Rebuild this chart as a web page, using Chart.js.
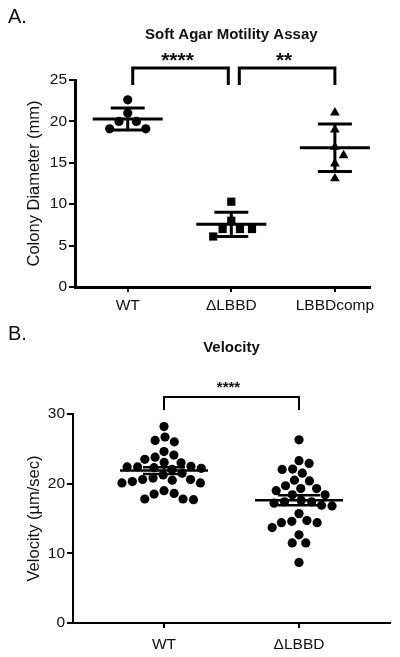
<!DOCTYPE html>
<html>
<head>
<meta charset="utf-8">
<script src="https://cdn.jsdelivr.net/npm/chart.js@4.4.1/dist/chart.umd.min.js"></script>
<style>
  html, body { margin: 0; padding: 0; background: #fff; }
  .panel { position: relative; width: 400px; }
  canvas { display: block; }
</style>
</head>
<body>
<div class="panel"><canvas id="agarChart" width="400" height="320"></canvas></div>
<div class="panel"><canvas id="velocityChart" width="400" height="337"></canvas></div>
<script>
// Panel A: soft agar colony diameters (mm)
const agarGroups = ['WT', '\u0394LBBD', 'LBBDcomp'];
const agarWT = [22.6, 21.0, 20.0, 20.0, 19.1, 19.1];
const agarDelta = [10.3, 8.0, 7.0, 7.0, 7.0, 6.1];
const agarComp = [21.05, 19.0, 16.9, 15.9, 14.9, 13.1];
const agarStars = ['****', '**'];

// Panel B: velocity (µm/sec)
const velocityGroups = ['WT', '\u0394LBBD'];
const velocityWT = [28.2, 26.7, 26.2, 26.0, 24.6, 24.1, 23.8, 23.5, 23.05, 23.0, 22.5,
  22.4, 22.4, 22.3, 22.2, 22.05, 21.5, 21.25, 20.8, 20.6, 20.6, 20.5, 20.3, 20.1, 20.1,
  19.0, 18.6, 18.5, 17.8, 17.8, 17.7];
const velocityDelta = [26.3, 23.3, 22.9, 22.1, 22.05, 21.5, 20.5, 20.4, 19.7, 19.3, 19.3,
  19.0, 18.4, 18.4, 17.6, 17.4, 17.4, 17.2, 16.9, 16.8, 15.7, 14.7, 14.6, 14.4, 14.4,
  13.7, 12.65, 11.5, 11.5, 8.7];
const velocityStars = ['****'];

const FONT = "'Liberation Sans', Arial, sans-serif";
const INK = '#111';

Chart.defaults.font.family = FONT;
Chart.defaults.color = INK;

// beeswarm: place each point as close to the centre line as it can go without overlapping
function swarmOffsets(pys, diam) {
  const order = pys.map(function (_, i) { return i; }).sort(function (a, b) { return pys[a] - pys[b]; });
  const placed = [];
  const out = [];
  order.forEach(function (i) {
    const y = pys[i];
    const near = placed.filter(function (p) { return Math.abs(p.y - y) < diam; });
    const cands = [0];
    near.forEach(function (p) {
      const dx = Math.sqrt(diam * diam - (p.y - y) * (p.y - y));
      cands.push(p.x + dx, p.x - dx);
    });
    cands.sort(function (a, b) { return Math.abs(a) - Math.abs(b); });
    const x = cands.find(function (c) {
      return near.every(function (p) { return (p.x - c) * (p.x - c) + (p.y - y) * (p.y - y) >= diam * diam - 0.01; });
    });
    placed.push({ x: x, y: y });
    out[i] = x;
  });
  return out;
}

function applySwarm(chart, diam) {
  const xs = chart.scales.x;
  const ys = chart.scales.y;
  const pxPerX = xs.getPixelForValue(2) - xs.getPixelForValue(1);
  chart.data.datasets.forEach(function (ds, i) {
    const values = ds.data.map(function (p) { return p.y; });
    const offsets = swarmOffsets(values.map(function (v) { return ys.getPixelForValue(v); }), diam);
    ds.data = values.map(function (v, k) { return { x: i + 1 + offsets[k] / pxPerX, y: v }; });
  });
  chart.update('none');
}

function meanAndSpread(values, kind) {
  const n = values.length;
  const mean = values.reduce(function (a, b) { return a + b; }, 0) / n;
  const sd = Math.sqrt(values.reduce(function (a, v) { return a + (v - mean) * (v - mean); }, 0) / (n - 1));
  return { mean: mean, spread: kind === 'sem' ? sd / Math.sqrt(n) : sd };
}

const figureDecor = {
  id: 'figureDecor',
  afterDatasetsDraw(chart, args, opts) {
    const { ctx } = chart;
    const xs = chart.scales.x;
    const ys = chart.scales.y;

    ctx.save();
    ctx.strokeStyle = '#000';
    ctx.fillStyle = INK;
    ctx.lineCap = 'butt';

    // mean with error bars
    ctx.lineWidth = opts.barWidth;
    chart.data.datasets.forEach(function (ds, i) {
      const stats = meanAndSpread(ds.data.map(function (p) { return p.y; }), opts.spread);
      const cx = xs.getPixelForValue(i + 1);
      const yMean = ys.getPixelForValue(stats.mean);
      const yHi = ys.getPixelForValue(stats.mean + stats.spread);
      const yLo = ys.getPixelForValue(stats.mean - stats.spread);
      ctx.beginPath();
      ctx.moveTo(cx - opts.meanHalf, yMean);
      ctx.lineTo(cx + opts.meanHalf, yMean);
      ctx.moveTo(cx - opts.capHalf, yHi);
      ctx.lineTo(cx + opts.capHalf, yHi);
      ctx.moveTo(cx - opts.capHalf, yLo);
      ctx.lineTo(cx + opts.capHalf, yLo);
      ctx.moveTo(cx, yHi);
      ctx.lineTo(cx, yLo);
      ctx.stroke();
    });

    // significance brackets
    ctx.lineWidth = opts.bracketWidth;
    opts.brackets.forEach(function (b) {
      const x1 = xs.getPixelForValue(b.from) + b.inset[0];
      const x2 = xs.getPixelForValue(b.to) - b.inset[1];
      ctx.beginPath();
      ctx.moveTo(x1, opts.bracketY + opts.legLength);
      ctx.lineTo(x1, opts.bracketY);
      ctx.lineTo(x2, opts.bracketY);
      ctx.lineTo(x2, opts.bracketY + opts.legLength);
      ctx.stroke();
      ctx.font = opts.starFont;
      ctx.textAlign = 'center';
      ctx.textBaseline = 'middle';
      ctx.fillText(b.text, (x1 + x2) / 2 - 3, opts.starY);
    });

    // panel letter and title
    ctx.font = '20px ' + FONT;
    ctx.textAlign = 'left';
    ctx.textBaseline = 'middle';
    ctx.fillText(opts.panel, 8, opts.panelY);

    ctx.font = 'bold 15px ' + FONT;
    ctx.textAlign = 'center';
    const mid = xs.getPixelForValue((1 + chart.data.datasets.length) / 2);
    ctx.fillText(opts.title, mid, opts.titleY);
    ctx.restore();
  }
};

function axisScales(groups, xMin, xMax, yMax, yStep, yTitle, yWidth, xHeight, axisWidth, labelPad) {
  return {
    x: {
      type: 'linear',
      min: xMin,
      max: xMax,
      afterBuildTicks(scale) {
        scale.ticks = groups.map(function (g, i) { return { value: i + 1 }; });
      },
      afterFit(scale) { scale.height = xHeight; },
      ticks: {
        autoSkip: false,
        maxRotation: 0,
        padding: labelPad,
        color: INK,
        font: { size: 15.5 },
        callback(value) { return groups[value - 1]; }
      },
      grid: { drawOnChartArea: false, tickLength: 5, color: '#000', lineWidth: 2 },
      border: { color: '#000', width: axisWidth }
    },
    y: {
      min: 0,
      max: yMax,
      afterFit(scale) { scale.width = yWidth; },
      ticks: { stepSize: yStep, padding: 2, color: INK, font: { size: 15.5 } },
      grid: { drawOnChartArea: false, tickLength: 6, color: '#000', lineWidth: 2 },
      border: { color: '#000', width: axisWidth },
      title: { display: true, text: yTitle, color: INK, font: { size: 16.5 }, padding: { top: 25, bottom: 0 } }
    }
  };
}

function pointSet(values, style, radius) {
  return {
    data: values.map(function (v) { return { x: 0, y: v }; }),
    pointStyle: style,
    pointRadius: radius,
    pointHoverRadius: radius,
    backgroundColor: '#000',
    borderColor: '#000',
    borderWidth: 0
  };
}

function prepare(set, i) {
  set.data.forEach(function (p) { p.x = i + 1; });
  return set;
}

const agarChart = new Chart(document.getElementById('agarChart'), {
  type: 'scatter',
  plugins: [figureDecor],
  data: {
    datasets: [
      pointSet(agarWT, 'circle', 4.6),
      pointSet(agarDelta, 'rect', 5.8),
      pointSet(agarComp, 'triangle', 5.6)
    ].map(prepare)
  },
  options: {
    responsive: false,
    animation: false,
    events: [],
    layout: { padding: { top: 80, right: 30, left: 0, bottom: 0 } },
    plugins: {
      legend: { display: false },
      tooltip: { enabled: false },
      figureDecor: {
        panel: 'A.',
        panelY: 17,
        title: 'Soft Agar Motility Assay',
        titleY: 35,
        spread: 'sd',
        meanHalf: 35,
        capHalf: 17,
        barWidth: 3,
        bracketWidth: 3,
        bracketY: 68,
        legLength: 17,
        starY: 61,
        starFont: 'bold 21px ' + FONT,
        brackets: [
          { from: 1, to: 2, inset: [5, 3], text: agarStars[0] },
          { from: 2, to: 3, inset: [8, 0], text: agarStars[1] }
        ]
      }
    },
    scales: axisScales(agarGroups, 0.491, 3.339, 25, 5, 'Colony Diameter (mm)', 75, 33, 3, 4)
  }
});

const velocityChart = new Chart(document.getElementById('velocityChart'), {
  type: 'scatter',
  plugins: [figureDecor],
  data: {
    datasets: [
      pointSet(velocityWT, 'circle', 4.6),
      pointSet(velocityDelta, 'circle', 4.6)
    ].map(prepare)
  },
  options: {
    responsive: false,
    animation: false,
    events: [],
    layout: { padding: { top: 94, right: 10, left: 0, bottom: 0 } },
    plugins: {
      legend: { display: false },
      tooltip: { enabled: false },
      figureDecor: {
        panel: 'B.',
        panelY: 14,
        title: 'Velocity',
        titleY: 28,
        spread: 'sem',
        meanHalf: 44,
        capHalf: 21,
        barWidth: 2.5,
        bracketWidth: 2,
        bracketY: 77,
        legLength: 13,
        starY: 68,
        starFont: 'bold 15px ' + FONT,
        brackets: [
          { from: 1, to: 2, inset: [0, 0], text: velocityStars[0] }
        ]
      }
    },
    scales: axisScales(velocityGroups, 0.326, 2.674, 30, 10, 'Velocity (\u00b5m/sec)', 73, 34, 2, 7)
  }
});

applySwarm(agarChart, 12);
applySwarm(velocityChart, 10.5);
</script>
</body>
</html>
